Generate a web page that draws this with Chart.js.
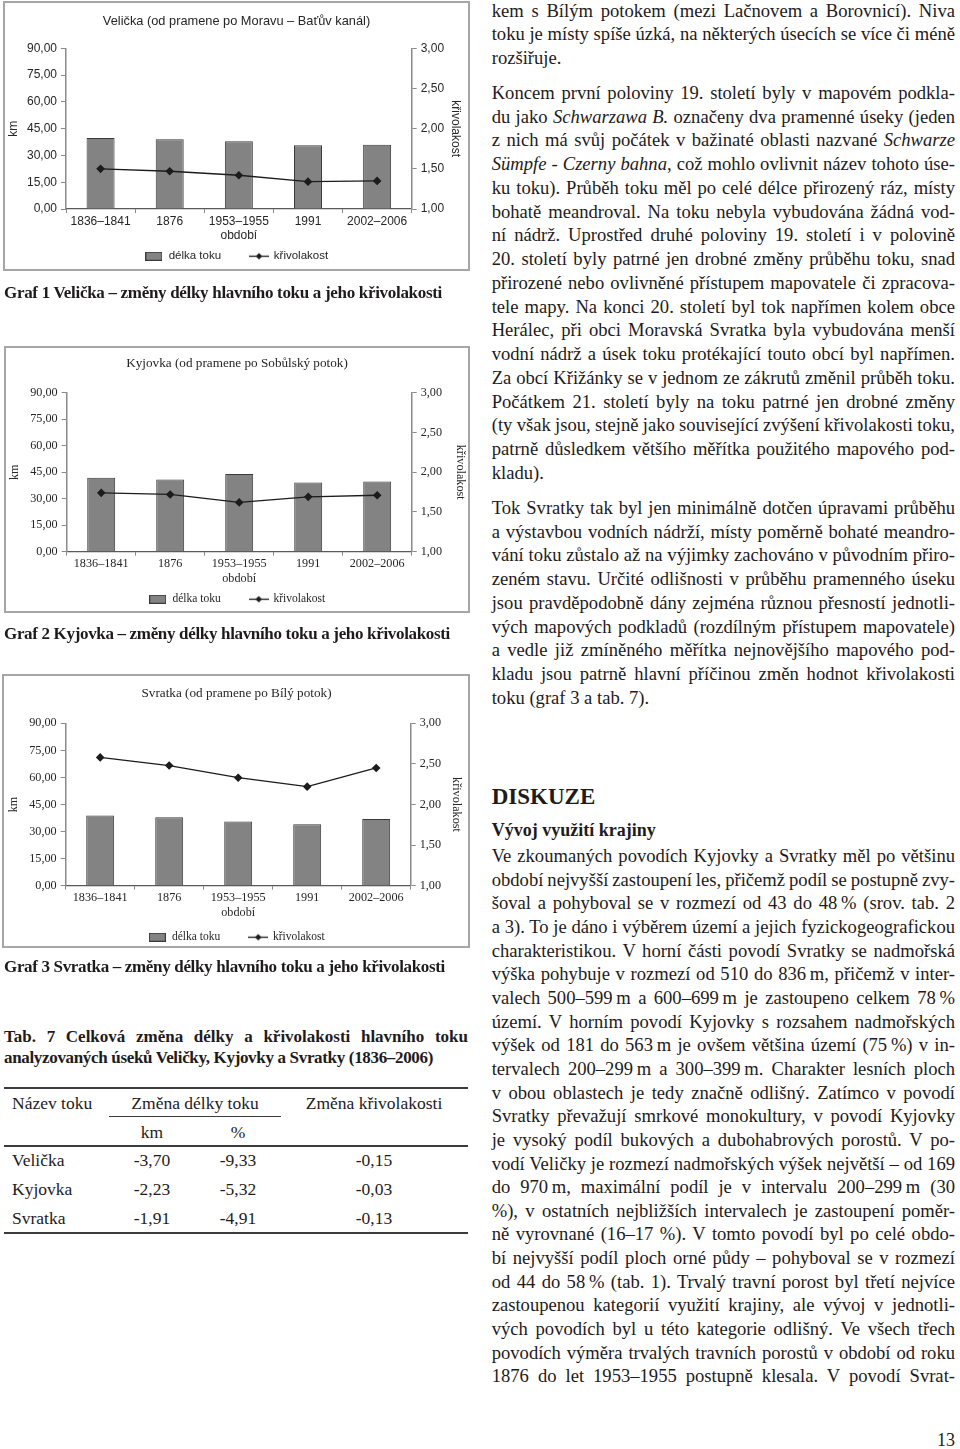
<!DOCTYPE html>
<html lang="cs">
<head>
<meta charset="utf-8">
<title>Změny délky hlavního toku a jeho křivolakosti</title>
<script src="https://cdn.jsdelivr.net/npm/chart.js@4.4.1/dist/chart.umd.min.js"></script>
<style>
  html, body { margin: 0; padding: 0; background: #fff; }
  body { width: 960px; height: 1449px; position: relative; overflow: hidden;
         font-family: "Liberation Serif", "Times New Roman", serif; color: #1e1b1c; }
  .ln { position: absolute; white-space: nowrap; line-height: 1; }
  canvas { position: absolute; }
  .frame { position: absolute; box-sizing: border-box; border: 2px solid #a6a6a6; pointer-events: none; }
  .rule { position: absolute; background: #3c3c3c; }
</style>
</head>
<body>

<canvas id="velicka"></canvas>
<div class="frame" style="left:3px; top:1px; width:467px; height:270px;"></div>
<canvas id="kyjovka"></canvas>
<div class="frame" style="left:4px; top:346px; width:466px; height:267px;"></div>
<canvas id="svratka"></canvas>
<div class="frame" style="left:2px; top:674px; width:468px; height:274px;"></div>

<div class="rule" style="left:4px; top:1087px; width:464px; height:2px;"></div>
<div class="rule" style="left:109px; top:1116px; width:172px; height:1px;"></div>
<div class="rule" style="left:4px; top:1145px; width:464px; height:2px;"></div>
<div class="rule" style="left:4px; top:1232px; width:464px; height:2px;"></div>

<script>
// období (x axis categories)
const periods = ['1836–1841', '1876', '1953–1955', '1991', '2002–2006'];
// tick values
const kmTicks = [0, 15, 30, 45, 60, 75, 90];
const sinuosityTicks = [1, 1.5, 2, 2.5, 3];

// délka toku (km) and křivolakost per river
const velickaLength = [39.7, 39.0, 37.9, 35.7, 36.0];
const velickaSinuosity = [1.50, 1.47, 1.42, 1.34, 1.35];
const kyjovkaLength = [41.9, 40.9, 44.0, 39.1, 39.7];
const kyjovkaSinuosity = [1.74, 1.72, 1.62, 1.69, 1.71];
const svratkaLength = [38.9, 38.0, 35.6, 34.0, 37.0];
const svratkaSinuosity = [2.58, 2.48, 2.33, 2.22, 2.45];

// Tab. 7
const tableRivers = ['Velička', 'Kyjovka', 'Svratka'];
const tableKm = ['-3,70', '-2,23', '-1,91'];
const tablePct = ['-9,33', '-5,32', '-4,91'];
const tableSinuosity = ['-0,15', '-0,03', '-0,13'];

const INK = '#262626';
const AXIS = '#8a8a8a';
const BAR_FILL = '#838383';
const BAR_EDGE = '#3a3a3a';
const LINE_COLOR = '#1c1c1c';

const fmt = v => Number(v).toFixed(2).replace('.', ',');

function barSwatch() {
    const c = document.createElement('canvas');
    c.width = 17; c.height = 9;
    const g = c.getContext('2d');
    g.fillStyle = BAR_FILL;
    g.fillRect(0.5, 0.5, 16, 8);
    g.strokeStyle = BAR_EDGE;
    g.lineWidth = 1;
    g.strokeRect(0.5, 0.5, 16, 8);
    return c;
}

function lineSwatch() {
    const c = document.createElement('canvas');
    c.width = 20; c.height = 9;
    const g = c.getContext('2d');
    g.strokeStyle = LINE_COLOR;
    g.lineWidth = 1.3;
    g.beginPath(); g.moveTo(0, 4.5); g.lineTo(20, 4.5); g.stroke();
    g.fillStyle = LINE_COLOR;
    g.beginPath(); g.moveTo(10, 1.2); g.lineTo(13.3, 4.5); g.lineTo(10, 7.8); g.lineTo(6.7, 4.5); g.closePath(); g.fill();
    return c;
}

/**
 * Builds one bar+line chart. All positions are canvas coordinates of the
 * plot area, title, tick labels and legend that the layout is fitted to.
 */
function makeChart(spec) {
    const cv = document.getElementById(spec.id);
    const fs = spec.sizes;
    const legendPad = 6;
    const H = Math.round(spec.legendC + 10 + fs.legend / 2);
    cv.width = spec.W;
    cv.height = H;
    cv.style.left = spec.x + 'px';
    cv.style.top = spec.y + 'px';

    const legendTop = H - fs.legend - legendPad - 10;
    const lhTick = fs.tick * 1.2, lhAxis = fs.axis * 1.2, lhTitle = fs.title * 1.2;
    const font = size => ({ family: spec.family, size: size });

    return new Chart(cv, {
        type: 'bar',
        data: {
            labels: periods,
            datasets: [{
                type: 'line',
                label: 'křivolakost',
                data: spec.sinuosity,
                yAxisID: 'y1',
                order: 0,
                borderColor: LINE_COLOR,
                borderWidth: 1.3,
                pointStyle: 'rectRot',
                pointRadius: 3.4,
                pointBackgroundColor: LINE_COLOR,
                pointBorderColor: LINE_COLOR,
                tension: 0
            }, {
                type: 'bar',
                label: 'délka toku',
                data: spec.length,
                yAxisID: 'y',
                order: 1,
                backgroundColor: BAR_FILL,
                borderColor: BAR_EDGE,
                borderWidth: 1,
                barPercentage: 0.405,
                categoryPercentage: 1
            }]
        },
        options: {
            responsive: false,
            animation: false,
            events: [],
            layout: { padding: 0 },
            plugins: {
                title: {
                    display: true,
                    text: spec.title,
                    color: INK,
                    font: { family: spec.family, size: fs.title, weight: 'normal' },
                    padding: { top: spec.titleC - lhTitle / 2, bottom: spec.T - spec.titleC - lhTitle / 2 }
                },
                legend: {
                    position: 'bottom',
                    labels: {
                        usePointStyle: true,
                        pointStyleWidth: 18,
                        padding: legendPad,
                        color: INK,
                        font: font(fs.legend),
                        generateLabels: () => [
                            { text: 'délka toku' + '\u2002'.repeat(4), pointStyle: barSwatch(), fillStyle: BAR_FILL,
                              strokeStyle: BAR_EDGE, lineWidth: 0, hidden: false, datasetIndex: 1, fontColor: INK },
                            { text: 'křivolakost', pointStyle: lineSwatch(), fillStyle: LINE_COLOR,
                              strokeStyle: LINE_COLOR, lineWidth: 0, hidden: false, datasetIndex: 0, fontColor: INK }
                        ]
                    }
                },
                tooltip: { enabled: false }
            },
            scales: {
                x: {
                    offset: true,
                    afterFit: s => { s.height = legendTop - spec.B; },
                    grid: { display: true, drawOnChartArea: false, drawTicks: true, tickLength: 4, color: AXIS, offset: true },
                    border: { display: true, color: '#5a5a5a', width: 1.2 },
                    ticks: { color: INK, font: font(fs.tick), maxRotation: 0, autoSkip: false,
                             padding: spec.xLabelC - spec.B - 4 - lhTick / 2 },
                    title: { display: true, text: 'období', color: INK, font: font(fs.axis),
                             padding: { top: 0, bottom: legendTop - spec.xTitleC - lhAxis / 2 } }
                },
                y: {
                    position: 'left',
                    min: 0,
                    max: 90,
                    afterBuildTicks: s => { s.ticks = kmTicks.map(v => ({ value: v })); },
                    afterFit: s => { s.width = spec.L; },
                    grid: { drawOnChartArea: false, drawTicks: true, tickLength: 5, color: AXIS },
                    border: { display: true, color: AXIS, width: 1.5 },
                    ticks: { padding: 4, color: INK, font: font(fs.tick), callback: v => fmt(v) },
                    title: { display: true, text: 'km', color: INK, font: font(fs.axis),
                             padding: { top: spec.leftTitleX - lhAxis / 2, bottom: 0 } }
                },
                y1: {
                    position: 'right',
                    min: 1,
                    max: 3,
                    afterBuildTicks: s => { s.ticks = sinuosityTicks.map(v => ({ value: v })); },
                    afterFit: s => { s.width = spec.W - spec.R; },
                    grid: { drawOnChartArea: false, drawTicks: true, tickLength: 5, color: AXIS },
                    border: { display: true, color: AXIS, width: 1.5 },
                    ticks: { padding: 4, color: INK, font: font(fs.tick), callback: v => fmt(v) },
                    title: { display: true, text: 'křivolakost', color: INK, font: font(fs.axis),
                             padding: { top: spec.W - spec.rightTitleX - lhAxis / 2, bottom: 0 } }
                }
            }
        }
    });
}

const sansSizes = { title: 12.8, tick: 12, axis: 12, legend: 11.5 };
const serifSizes = { title: 13.2, tick: 12.2, axis: 12.2, legend: 11.5 };

makeChart({
    id: 'velicka', x: 4, y: 3, W: 465,
    family: '"Liberation Sans", Arial, sans-serif', sizes: sansSizes,
    title: 'Velička (od pramene po Moravu – Baťův kanál)',
    length: velickaLength, sinuosity: velickaSinuosity,
    L: 62, R: 407.7, T: 45.3, B: 206,
    titleC: 18, xLabelC: 219, xTitleC: 233, legendC: 253, leftTitleX: 10, rightTitleX: 451
});

makeChart({
    id: 'kyjovka', x: 5, y: 348, W: 464,
    family: '"Liberation Serif", "Times New Roman", serif', sizes: serifSizes,
    title: 'Kyjovka (od pramene po Sobůlský potok)',
    length: kyjovkaLength, sinuosity: kyjovkaSinuosity,
    L: 61.7, R: 406.7, T: 44.7, B: 203.7,
    titleC: 16, xLabelC: 216, xTitleC: 231, legendC: 251, leftTitleX: 10, rightTitleX: 455
});

makeChart({
    id: 'svratka', x: 4, y: 676, W: 465,
    family: '"Liberation Serif", "Times New Roman", serif', sizes: serifSizes,
    title: 'Svratka (od pramene po Bílý potok)',
    length: svratkaLength, sinuosity: svratkaSinuosity,
    L: 61.7, R: 406.7, T: 47.3, B: 209.7,
    titleC: 18, xLabelC: 222, xTitleC: 237, legendC: 261, leftTitleX: 10, rightTitleX: 452
});

// ---- page text ----
function placeLine(html, o) {
    const el = document.createElement('div');
    el.className = 'ln';
    el.style.fontSize = o.size + 'px';
    if (o.bold) el.style.fontWeight = 'bold';
    el.innerHTML = '<span>' + html + '</span>';
    document.body.appendChild(el);
    const span = el.firstChild;
    const w = span.getBoundingClientRect().width;
    let width = w;
    if (o.fit === 'justify') {
        const n = (span.textContent.match(/ /g) || []).length;
        if (n) el.style.wordSpacing = ((o.width - w) / n) + 'px';
        width = o.width;
    } else if (o.fit === 'letter') {
        el.style.letterSpacing = ((o.width - w) / span.textContent.length) + 'px';
        width = o.width;
    }
    let left = o.x;
    if (o.align === 'center') left = o.x - width / 2;
    if (o.align === 'right') left = o.x - width;
    el.style.left = left + 'px';
    el.style.top = (o.c - 0.51 * o.size) + 'px';
}

const COL_X = 491.7, COL_W = 463.3, BODY = 18.6;
const rightParagraphs = [
    { c: 11, step: 23.7, lastLeft: true, lines: [
        'kem s Bílým potokem (mezi Lačnovem a Borovnicí). Niva',
        'toku je místy spíše úzká, na některých úsecích se více či méně',
        'rozšiřuje.'
    ]},
    { c: 93.3, step: 23.75, lastLeft: true, lines: [
        'Koncem první poloviny 19. století byly v mapovém podkla-',
        'du jako <i>Schwarzawa B.</i> označeny dva pramenné úseky (jeden',
        'z nich má svůj počátek v bažinaté oblasti nazvané <i>Schwarze</i>',
        '<i>Sümpfe - Czerny bahna</i>, což mohlo ovlivnit název tohoto úse-',
        'ku toku). Průběh toku měl po celé délce přirozený ráz, místy',
        'bohatě meandroval. Na toku nebyla vybudována žádná vod-',
        'ní nádrž. Uprostřed druhé poloviny 19. století i v polovině',
        '20. století byly patrné jen drobné změny průběhu toku, snad',
        'přirozené nebo ovlivněné přístupem mapovatele či zpracova-',
        'tele mapy. Na konci 20. století byl tok napřímen kolem obce',
        'Herálec, při obci Moravská Svratka byla vybudována menší',
        'vodní nádrž a úsek toku protékající touto obcí byl napřímen.',
        'Za obcí Křižánky se v jednom ze zákrutů změnil průběh toku.',
        'Počátkem 21. století byly na toku patrné jen drobné změny',
        '(ty však jsou, stejně jako související zvýšení křivolakosti toku,',
        'patrně důsledkem většího měřítka použitého mapového pod-',
        'kladu).'
    ]},
    { c: 508.3, step: 23.75, lastLeft: true, lines: [
        'Tok Svratky tak byl jen minimálně dotčen úpravami průběhu',
        'a výstavbou vodních nádrží, místy poměrně bohaté meandro-',
        'vání toku zůstalo až na výjimky zachováno v původním přiro-',
        'zeném stavu. Určité odlišnosti v průběhu pramenného úseku',
        'jsou pravděpodobně dány zejména různou přesností jednotli-',
        'vých mapových podkladů (rozdílným přístupem mapovatele)',
        'a vedle již zmíněného měřítka nejnovějšího mapového pod-',
        'kladu jsou patrně hlavní příčinou změn hodnot křivolakosti',
        'toku (graf 3 a tab. 7).'
    ]},
    { c: 856.7, step: 23.64, lastLeft: false, lines: [
        'Ve zkoumaných povodích Kyjovky a Svratky měl po většinu',
        'období nejvyšší zastoupení les, přičemž podíl se postupně zvy-',
        'šoval a pohyboval se v rozmezí od 43 do 48\u202F% (srov. tab. 2',
        'a 3). To je dáno i výběrem území a jejich fyzickogeografickou',
        'charakteristikou. V horní části povodí Svratky se nadmořská',
        'výška pohybuje v rozmezí od 510 do 836\u202Fm, přičemž v inter-',
        'valech 500–599\u202Fm a 600–699\u202Fm je zastoupeno celkem 78\u202F%',
        'území. V horním povodí Kyjovky s rozsahem nadmořských',
        'výšek od 181 do 563\u202Fm je ovšem většina území (75\u202F%) v in-',
        'tervalech 200–299\u202Fm a 300–399\u202Fm. Charakter lesních ploch',
        'v obou oblastech je tedy značně odlišný. Zatímco v povodí',
        'Svratky převažují smrkové monokultury, v povodí Kyjovky',
        'je vysoký podíl bukových a dubohabrových porostů. V po-',
        'vodí Veličky je rozmezí nadmořských výšek největší – od 169',
        'do 970\u202Fm, maximální podíl je v intervalu 200–299\u202Fm (30',
        '%), v ostatních nejbližších intervalech je zastoupení poměr-',
        'ně vyrovnané (16–17 %). V tomto povodí byl po celé obdo-',
        'bí nejvyšší podíl ploch orné půdy – pohyboval se v rozmezí',
        'od 44 do 58\u202F% (tab. 1). Trvalý travní porost byl třetí nejvíce',
        'zastoupenou kategorií využití krajiny, ale vývoj v jednotli-',
        'vých povodích byl u této kategorie odlišný. Ve všech třech',
        'povodích výměra trvalých travních porostů v období od roku',
        '1876 do let 1953–1955 postupně klesala. V povodí Svrat-'
    ]}
];

rightParagraphs.forEach(p => {
    p.lines.forEach((line, i) => {
        const isLast = i === p.lines.length - 1;
        placeLine(line, { x: COL_X, c: p.c + i * p.step, size: BODY, width: COL_W,
                          fit: (isLast && p.lastLeft) ? null : 'justify' });
    });
});

placeLine('DISKUZE', { x: COL_X, c: 797, size: 23, bold: true });
placeLine('Vývoj využití krajiny', { x: COL_X, c: 830, size: 18, bold: true });
placeLine('13', { x: 955, c: 1440, size: 18, align: 'right' });

// captions on the left
placeLine('Graf 1 Velička – změny délky hlavního toku a jeho křivolakosti',
          { x: 4, c: 293, size: 17, bold: true, fit: 'letter', width: 438 });
placeLine('Graf 2 Kyjovka – změny délky hlavního toku a jeho křivolakosti',
          { x: 4, c: 634, size: 17, bold: true, fit: 'letter', width: 446 });
placeLine('Graf 3 Svratka – změny délky hlavního toku a jeho křivolakosti',
          { x: 4, c: 967, size: 17, bold: true, fit: 'letter', width: 441 });
placeLine('Tab. 7 Celková změna délky a křivolakosti hlavního toku',
          { x: 4, c: 1037, size: 17, bold: true, fit: 'justify', width: 464 });
placeLine('analyzovaných úseků Veličky, Kyjovky a Svratky (1836–2006)',
          { x: 4, c: 1058, size: 17, bold: true, fit: 'letter', width: 429 });

// Tab. 7 body
placeLine('Název toku', { x: 12, c: 1104, size: 17.5 });
placeLine('Změna délky toku', { x: 195, c: 1104, size: 17.5, align: 'center' });
placeLine('Změna křivolakosti', { x: 374, c: 1104, size: 17.5, align: 'center' });
placeLine('km', { x: 152, c: 1133, size: 17.5, align: 'center' });
placeLine('%', { x: 238, c: 1133, size: 17.5, align: 'center' });
const rowC = [1161, 1190, 1218.5];
tableRivers.forEach((name, i) => {
    placeLine(name, { x: 12, c: rowC[i], size: 17.5 });
    placeLine(tableKm[i], { x: 152, c: rowC[i], size: 17.5, align: 'center' });
    placeLine(tablePct[i], { x: 238, c: rowC[i], size: 17.5, align: 'center' });
    placeLine(tableSinuosity[i], { x: 374, c: rowC[i], size: 17.5, align: 'center' });
});
</script>
</body>
</html>
